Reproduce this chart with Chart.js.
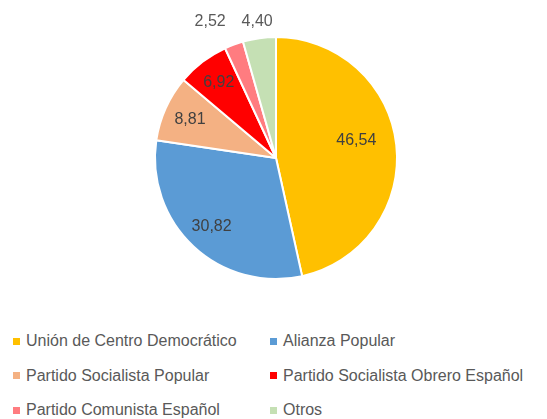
<!DOCTYPE html>
<html>
<head>
<meta charset="utf-8">
<script src="https://cdn.jsdelivr.net/npm/chart.js@4.4.0/dist/chart.umd.min.js"></script>
<style>
  body { margin: 0; background: #fff; }
  #wrap { position: relative; width: 547px; height: 419px; }
  #box { position: absolute; left: 0; top: 0; width: 547px; height: 300px; }
  #legend { position: absolute; left: 13px; top: 331px; display: grid;
    grid-template-columns: 257px 277px; row-gap: 14.5px;
    font-family: "Liberation Sans", Arial, sans-serif; font-size: 16px; color: #595959; }
  #legend div { display: flex; align-items: center; height: 20px; white-space: nowrap; }
  #legend span { display: inline-block; width: 7px; height: 7px; margin-right: 6px; }
</style>
</head>
<body>
<div id="wrap">
  <div id="box"><canvas id="chartVotos"></canvas></div>
  <div id="legend"></div>
</div>
<script>
const partidos = [
  "Unión de Centro Democrático",
  "Alianza Popular",
  "Partido Socialista Popular",
  "Partido Socialista Obrero Español",
  "Partido Comunista Español",
  "Otros"
];
const votos = [46.54, 30.82, 8.81, 6.92, 2.52, 4.40];
const colores = ["#FFC000", "#5B9BD5", "#F4B183", "#FF0000", "#FF7C80", "#C5E0B4"];

const fmt = (v) => v.toFixed(2).replace(".", ",");

// etiquetas dentro / fuera, un poco al estilo de Excel
const etiquetas = {
  id: "etiquetas",
  afterDatasetsDraw(chart) {
    const ctx = chart.ctx;
    const meta = chart.getDatasetMeta(0);
    ctx.save();
    ctx.font = "16px 'Liberation Sans', Arial, sans-serif";
    ctx.fillStyle = "#404040";
    ctx.textAlign = "center";
    ctx.textBaseline = "middle";
    const fuera = [];
    meta.data.forEach((arc, i) => {
      const { x, y, startAngle, endAngle, outerRadius } = arc.getProps(
        ["x", "y", "startAngle", "endAngle", "outerRadius"], true);
      let mid = (startAngle + endAngle) / 2;
      const txt = fmt(votos[i]);
      if (endAngle - startAngle < 0.3) {
        fuera.push({ x: x + Math.cos(mid) * (outerRadius + 16), y: y - outerRadius - 15, txt });
        return;
      }
      let f = 0.78;
      if (endAngle - startAngle > 2.5) { f = 0.68; mid -= 0.11; }
      ctx.fillText(txt, x + Math.cos(mid) * outerRadius * f, y + Math.sin(mid) * outerRadius * f);
    });
    // separar las etiquetas de fuera
    ctx.fillStyle = "#595959";
    for (let i = fuera.length - 2; i >= 0; i--) {
      const minGap = 47;
      if (fuera[i + 1].x - fuera[i].x < minGap) fuera[i].x = fuera[i + 1].x - minGap;
    }
    fuera.forEach((l) => ctx.fillText(l.txt, l.x, l.y));
    ctx.restore();
  }
};

const data = {
  labels: partidos,
  datasets: [
    {
      data: votos,
      backgroundColor: colores,
      borderColor: "#ffffff",
      borderWidth: 2,
    },
  ],
};

const config = {
  type: "pie",
  data,
  options: {
    responsive: true,
    maintainAspectRatio: false,
    animation: false,
    layout: { padding: { left: 5, right: 0, top: 36, bottom: 20 } },
    plugins: {
      legend: { display: false },
      tooltip: { enabled: false },
    },
  },
  plugins: [etiquetas],
};

const chartVotos = new Chart(document.getElementById("chartVotos"), config);

const legend = document.getElementById("legend");
partidos.forEach((p, i) => {
  const d = document.createElement("div");
  d.innerHTML = '<span style="background:' + colores[i] + '"></span>' + p;
  legend.appendChild(d);
});
</script>
</body>
</html>
